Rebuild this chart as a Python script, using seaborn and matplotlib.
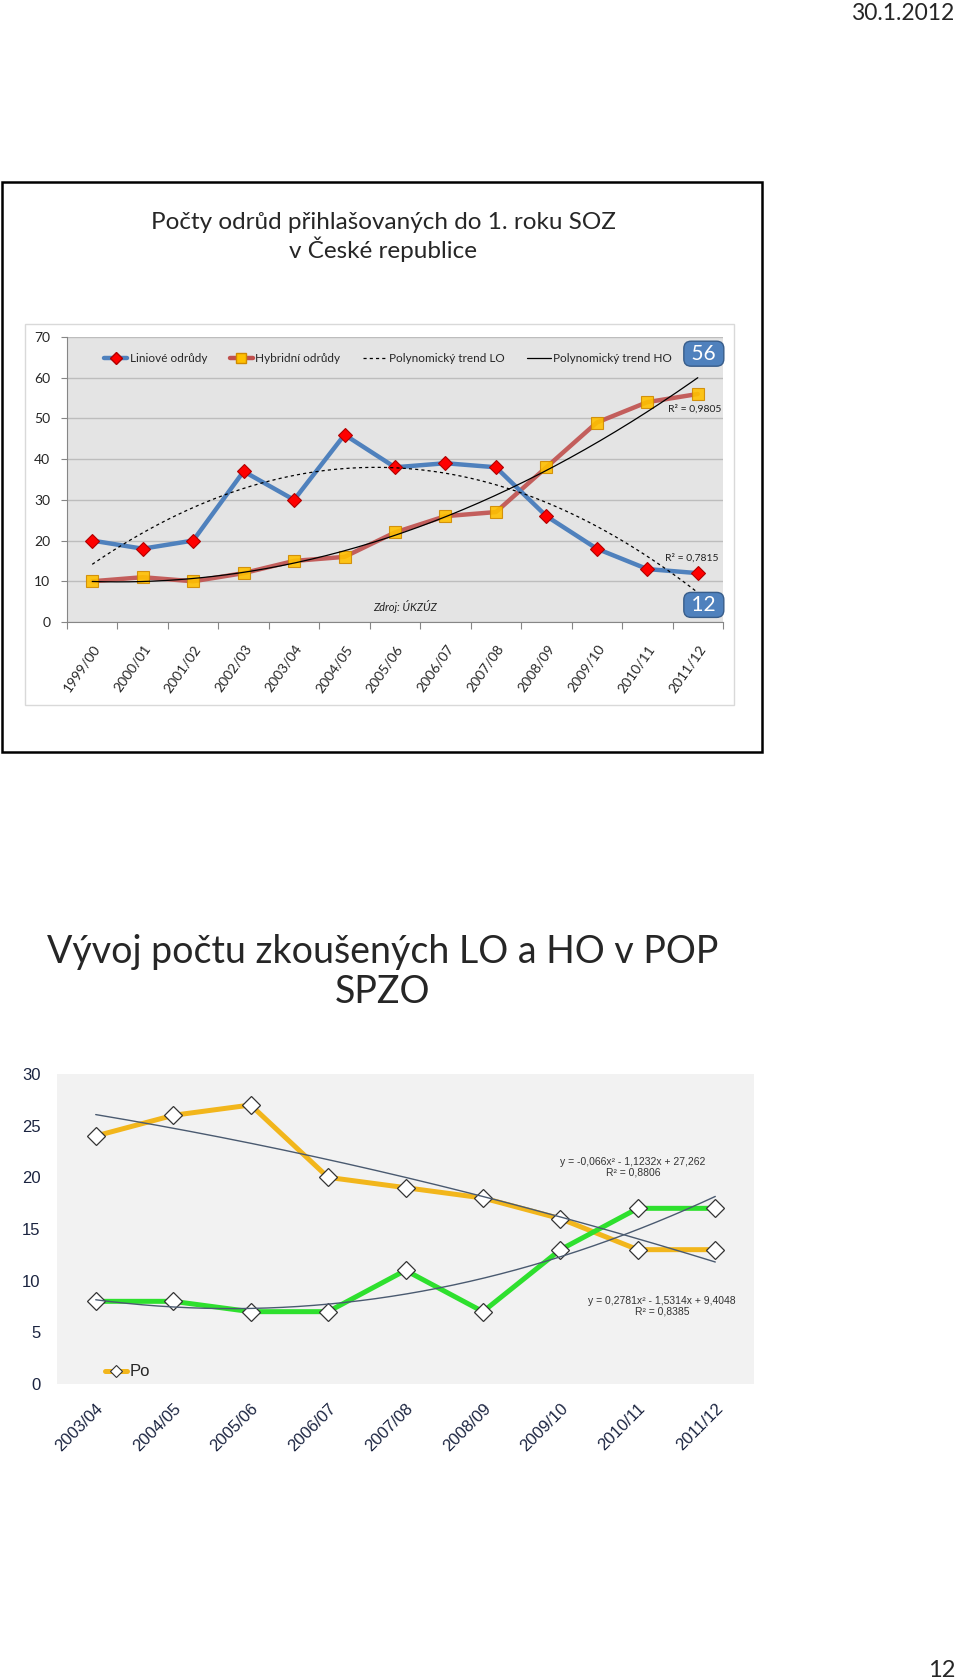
import numpy as np
import matplotlib
matplotlib.use('Agg')
import matplotlib.pyplot as plt
from matplotlib.lines import Line2D
from matplotlib.patches import Rectangle
import seaborn as sns

# horní graf - odrůdy přihlášené do 1. roku SOZ
sezony = ['1999/00', '2000/01', '2001/02', '2002/03', '2003/04', '2004/05', '2005/06',
          '2006/07', '2007/08', '2008/09', '2009/10', '2010/11', '2011/12']
liniove = [20, 18, 20, 37, 30, 46, 38, 39, 38, 26, 18, 13, 12]
hybridni = [10, 11, 10, 12, 15, 16, 22, 26, 27, 38, 49, 54, 56]

# dolní graf - POP SPZO
sezony_pop = ['2003/04', '2004/05', '2005/06', '2006/07', '2007/08', '2008/09',
              '2009/10', '2010/11', '2011/12']
pop_zluta = [24, 26, 27, 20, 19, 18, 16, 13, 13]
pop_zelena = [8, 8, 7, 7, 11, 7, 13, 17, 17]

sns.set_theme(style='white')
plt.rcParams['font.family'] = ['Lato', 'DejaVu Sans']

W, H = 960, 1680
fig = plt.figure(figsize=(W / 100, H / 100), dpi=100)

# rámečky horního snímku
fig.add_artist(Rectangle((2 / W, 1 - 752 / H), 760 / W, 570 / H, transform=fig.transFigure,
                         fill=False, ec='black', lw=1.8))
fig.add_artist(Rectangle((25 / W, 1 - 705 / H), 709 / W, 381 / H, transform=fig.transFigure,
                         fill=False, ec='#D9D9D9', lw=1))

fig.text(954 / W, 1 - 20 / H, '30.1.2012', ha='right', va='baseline', fontsize=16.5)
fig.text(955 / W, 1 - 1677 / H, '12', ha='right', va='baseline', fontsize=17)

fig.text(383 / W, 1 - 237 / H, 'Počty odrůd přihlašovaných do 1. roku SOZ\nv České republice',
         ha='center', va='center', fontsize=17.5, linespacing=1.2)

# ---------- horní graf ----------
ax1 = fig.add_axes([67 / W, 1 - 622 / H, 656 / W, 285 / H])
ax1.set_facecolor('#E4E4E4')
x = np.arange(len(sezony))
xs = np.linspace(0, len(sezony) - 1, 200)

ax1.yaxis.grid(True, color='#BDBDBD', lw=1)
ax1.set_axisbelow(True)

c_lo = np.polyfit(x, liniove, 2)
c_ho = np.polyfit(x, hybridni, 2)

sns.lineplot(x=x, y=hybridni, ax=ax1, color='#C0504D', lw=3.2, alpha=0.9,
             marker='s', ms=8, mfc='#FFC000', mec='#D08A00', mew=0.8, zorder=3)
sns.lineplot(x=x, y=liniove, ax=ax1, color='#4F81BD', lw=3.2,
             marker='D', ms=7.5, mfc='#FF0000', mec='#B00000', mew=0.8, zorder=4)
ax1.plot(xs, np.polyval(c_lo, xs), color='black', lw=0.9, ls=(0, (2.5, 2.5)), zorder=5)
ax1.plot(xs, np.polyval(c_ho, xs), color='black', lw=0.9, zorder=5)

ax1.set_xlim(-0.5, len(sezony) - 0.5)
ax1.set_ylim(0, 70)
ax1.set_yticks(range(0, 80, 10))
ax1.set_xticks(x)
ax1.set_xticklabels(sezony, rotation=55, ha='right', va='top', rotation_mode='anchor')
ax1.set_xticks(np.arange(-0.5, len(sezony), 1), minor=True)
ax1.tick_params(axis='x', which='major', bottom=False, labelsize=10, pad=9)
ax1.tick_params(axis='x', which='minor', bottom=True, length=5, color='#868686', width=0.8)
ax1.tick_params(axis='y', left=True, length=4, color='#868686', width=0.8, labelsize=10, pad=8)
ax1.set_xlabel('')
ax1.set_ylabel('')
for s in ['top', 'right']:
    ax1.spines[s].set_visible(False)
for s in ['left', 'bottom']:
    ax1.spines[s].set_color('#868686')
    ax1.spines[s].set_linewidth(0.8)

handles = [
    Line2D([], [], color='#4F81BD', lw=3.2, marker='D', ms=6.5, mfc='#FF0000', mec='#B00000'),
    Line2D([], [], color='#C0504D', lw=3.2, marker='s', ms=7, mfc='#FFC000', mec='#D08A00'),
    Line2D([], [], color='black', lw=0.9, ls=(0, (2.5, 2.5))),
    Line2D([], [], color='black', lw=0.9),
]
ax1.legend(handles, ['Liniové odrůdy', 'Hybridní odrůdy', 'Polynomický trend LO', 'Polynomický trend HO'],
           ncol=4, frameon=False, fontsize=8.5, loc='center left', bbox_to_anchor=(0.056, 0.923),
           handlelength=2.0, handletextpad=0.2, columnspacing=1.9, borderaxespad=0, borderpad=0)

box = dict(boxstyle='round,pad=0.12,rounding_size=0.35', fc='#4F81BD', ec='#385D8A', lw=1)
ax1.text(12.12, 65.9, ' 56 ', ha='center', va='center', fontsize=15, color='white', bbox=box, clip_on=False, zorder=6)
ax1.text(12.12, 4.2, ' 12 ', ha='center', va='center', fontsize=15, color='white', bbox=box, clip_on=False, zorder=6)
ax1.text(12.46, 52.3, 'R² = 0,9805', ha='right', va='center', fontsize=7.5, color='#222222')
ax1.text(12.42, 15.7, 'R² = 0,7815', ha='right', va='center', fontsize=7.5, color='#222222')
ax1.text(6.2, 3.7, 'Zdroj: ÚKZÚZ', ha='center', va='center', fontsize=8, style='italic', color='#222222')

# ---------- dolní graf ----------
fig.text(383 / W, 1 - 972 / H, 'Vývoj počtu zkoušených LO a HO v POP\nSPZO',
         ha='center', va='center', fontsize=27, linespacing=1.15)

ax2 = fig.add_axes([57 / W, 1 - 1384 / H, 697 / W, 310 / H])
ax2.set_facecolor('#F2F2F2')
x2 = np.arange(len(sezony_pop))
xs2 = np.linspace(0, len(sezony_pop) - 1, 200)
c_zl = np.polyfit(x2, pop_zluta, 2)
c_ze = np.polyfit(x2, pop_zelena, 2)

sns.lineplot(x=x2, y=pop_zluta, ax=ax2, color='#F2B61C', lw=3.6,
             marker='D', ms=9.5, mfc='white', mec='#333333', mew=0.9, zorder=3)
sns.lineplot(x=x2, y=pop_zelena, ax=ax2, color='#2EE02E', lw=3.6,
             marker='D', ms=9.5, mfc='white', mec='#333333', mew=0.9, zorder=3)
ax2.plot(xs2, np.polyval(c_zl, xs2), color='#4A5A70', lw=1, zorder=4)
ax2.plot(xs2, np.polyval(c_ze, xs2), color='#4A5A70', lw=1, zorder=4)

ax2.set_xlim(-0.5, len(sezony_pop) - 0.5)
ax2.set_ylim(0, 30)
ax2.set_yticks(range(0, 35, 5))
ax2.set_xticks(x2)
ax2.set_xticklabels(sezony_pop, rotation=45, ha='right', va='top', rotation_mode='anchor')
ax2.tick_params(axis='both', length=0, labelsize=12, labelcolor='#1B2440')
ax2.tick_params(axis='x', pad=12)
ax2.tick_params(axis='y', pad=12)
for lab in ax2.get_xticklabels() + ax2.get_yticklabels():
    lab.set_family(['Liberation Sans', 'DejaVu Sans'])
ax2.set_xlabel('')
ax2.set_ylabel('')
for s in ax2.spines.values():
    s.set_visible(False)

ax2.text(6.94, 21.0, 'y = -0,066x² - 1,1232x + 27,262\nR² = 0,8806', ha='center', va='center',
         fontsize=7.5, color='#333333', linespacing=1.1, family=['Liberation Sans', 'DejaVu Sans'])
ax2.text(7.31, 7.55, 'y = 0,2781x² - 1,5314x + 9,4048\nR² = 0,8385', ha='center', va='center',
         fontsize=7.5, color='#333333', linespacing=1.1, family=['Liberation Sans', 'DejaVu Sans'])

po = Line2D([], [], color='#F2B61C', lw=3.6, marker='D', ms=6.5, mfc='white', mec='#333333', mew=0.8)
leg = ax2.legend([po], ['Po'], frameon=False, loc='center left', bbox_to_anchor=(0.069, 0.039),
                 borderpad=0, borderaxespad=0, handlelength=1.3, handletextpad=0.15,
                 prop={'family': ['Liberation Sans', 'DejaVu Sans'], 'size': 12})

fig.savefig('out.png', dpi=100)
